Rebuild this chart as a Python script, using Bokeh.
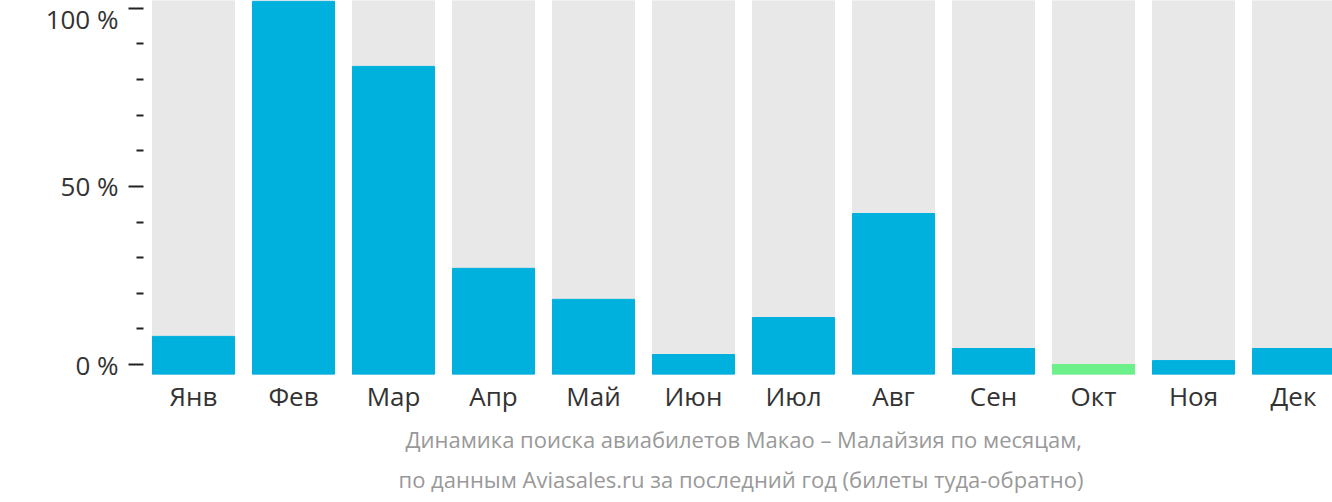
from bokeh.plotting import figure
from bokeh.models import ColumnDataSource, FixedTicker, PrintfTickFormatter, Range1d, Title
from bokeh.embed import file_html
from bokeh.resources import INLINE

months = ["Янв", "Фев", "Мар", "Апр", "Май", "Июн", "Июл", "Авг", "Сен", "Окт", "Ноя", "Дек"]
values = [7.9, 102.0, 83.7, 27.0, 18.3, 2.8, 13.2, 42.4, 4.5, 0.0, 1.1, 4.5]
y_ticks = [0, 50, 100]
y_minor = [10, 20, 30, 40, 60, 70, 80, 90]
caption1 = "Динамика поиска авиабилетов Макао – Малайзия по месяцам,"
caption2 = "по данным Aviasales.ru за последний год (билеты туда-обратно)"

BLUE = "#00b1dd"
GREEN = "#6cf08a"
GREY = "#e8e8e8"

y_start, y_end = -2.8, 102.2
xs = list(range(len(months)))
vmin = min(values)
colors = [GREEN if v == vmin else BLUE for v in values]

src = ColumnDataSource(dict(x=xs, top=values, color=colors))

p = figure(width=1332, height=502, output_backend="svg", toolbar_location=None,
           x_range=Range1d(-0.5, 11.39), y_range=Range1d(y_start, y_end),
           min_border_left=143, min_border_right=0, min_border_top=0, min_border_bottom=128)
p.outline_line_color = None
p.grid.visible = False
p.background_fill_color = "white"
p.border_fill_color = "white"

p.vbar(x=xs, width=0.82, bottom=y_start, top=y_end, color=GREY)
p.vbar(x="x", width=0.82, bottom=y_start, top="top", color="color", source=src)

# y axis
ya = p.yaxis[0]
ya.ticker = FixedTicker(ticks=y_ticks, minor_ticks=y_minor)
ya.formatter = PrintfTickFormatter(format="%d %%")
ya.axis_line_color = None
ya.major_tick_in = 0
ya.major_tick_out = 15
ya.minor_tick_in = 0
ya.minor_tick_out = 7
ya.major_tick_line_width = 2
ya.minor_tick_line_width = 2
ya.major_tick_line_color = "#222222"
ya.minor_tick_line_color = "#222222"
ya.major_label_standoff = 10
ya.major_label_text_font = "Open Sans"
ya.major_label_text_font_size = "26px"
ya.major_label_text_color = "#333333"

# x axis
xa = p.xaxis[0]
xa.ticker = FixedTicker(ticks=xs)
xa.major_label_overrides = {i: m for i, m in enumerate(months)}
xa.axis_line_color = None
xa.major_tick_line_color = None
xa.minor_tick_line_color = None
xa.major_label_standoff = -3
xa.major_label_text_font = "Open Sans"
xa.major_label_text_font_size = "26px"
xa.major_label_text_color = "#333333"

for txt, off, so in [(caption1, 262, 11), (caption2, 255, 4)]:
    p.add_layout(Title(text=txt, align="left", offset=off, standoff=so,
                       text_font="Open Sans", text_font_size="22px",
                       text_font_style="normal", text_color="#999999"), "below")

open("out.html", "w").write(file_html(p, INLINE))
